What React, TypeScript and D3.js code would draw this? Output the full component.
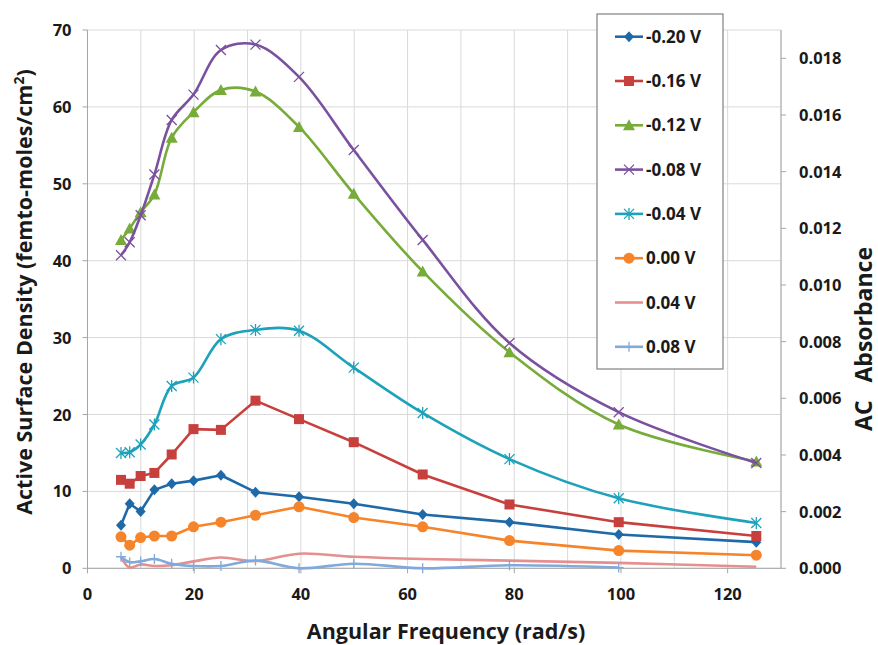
import React from "react";
import * as d3 from "d3";

// ---- data ----
const freq = [6.28, 7.91, 9.96, 12.54, 15.78, 19.87, 25.01, 31.49, 39.65, 49.91, 62.83, 79.1, 99.58, 125.37];
const vM020 = [5.6, 8.4, 7.4, 10.2, 11.0, 11.4, 12.1, 9.9, 9.3, 8.4, 7.0, 6.0, 4.4, 3.4];
const vM016 = [11.5, 11.0, 12.0, 12.4, 14.8, 18.1, 18.0, 21.8, 19.4, 16.4, 12.2, 8.3, 6.0, 4.2];
const vM012 = [42.7, 44.2, 46.3, 48.6, 56.0, 59.3, 62.2, 62.0, 57.4, 48.7, 38.6, 28.1, 18.7, 13.9];
const vM008 = [40.7, 42.4, 45.9, 51.2, 58.3, 61.6, 67.4, 68.1, 63.9, 54.4, 42.7, 29.3, 20.3, 13.7];
const vM004 = [15.0, 15.1, 16.1, 18.7, 23.7, 24.8, 29.8, 31.0, 30.9, 26.1, 20.2, 14.2, 9.1, 5.9];
const vP000 = [4.1, 3.0, 4.0, 4.2, 4.2, 5.4, 6.0, 6.9, 8.0, 6.6, 5.4, 3.6, 2.3, 1.7];
const vP004 = [1.4, 0.1, 0.5, 0.3, 0.4, 0.9, 1.4, 0.95, 1.9, 1.5, 1.2, 1.0, 0.7, 0.2];
const vP008 = [1.5, 0.8, 0.9, 1.2, 0.6, 0.3, 0.3, 1.0, 0.0, 0.6, 0.0, 0.4, 0.1];

const seriesNames = ["-0.20 V", "-0.16 V", "-0.12 V", "-0.08 V", "-0.04 V", "0.00 V", "0.04 V", "0.08 V"];
const seriesValues = [vM020, vM016, vM012, vM008, vM004, vP000, vP004, vP008];
const seriesColors = ["#1f69a8", "#c8403e", "#77ab3a", "#7a519f", "#1ea2bb", "#f5842a", "#e58f8e", "#82a9db"];
const seriesMarkers = ["diamond", "square", "triangle", "x", "asterisk", "circle", "none", "plus"];
const seriesSmooth = [false, false, true, true, true, false, true, true];

const xTicks = [0, 20, 40, 60, 80, 100, 120];
const xGrid = [10, 20, 30, 40, 50, 60, 70, 80, 90, 100, 110, 120, 130];
const yTicks = [0, 10, 20, 30, 40, 50, 60, 70];
const y2Ticks = [0, 0.002, 0.004, 0.006, 0.008, 0.01, 0.012, 0.014, 0.016, 0.018];

const FONT = "'Open Sans', sans-serif";

function Marker({ type, x, y, color }: { type: string; x: number; y: number; color: string }) {
  const s = 5;
  switch (type) {
    case "diamond":
      return <path d={`M${x},${y - s - 0.5}L${x + s},${y}L${x},${y + s + 0.5}L${x - s},${y}Z`} fill={color} />;
    case "square":
      return <rect x={x - 5} y={y - 5} width={10} height={10} fill={color} />;
    case "triangle":
      return <path d={`M${x},${y - 6}L${x + 6},${y + 5}L${x - 6},${y + 5}Z`} fill={color} />;
    case "circle":
      return <circle cx={x} cy={y} r={5.5} fill={color} />;
    case "x":
      return (
        <path d={`M${x - 5},${y - 5}L${x + 5},${y + 5}M${x - 5},${y + 5}L${x + 5},${y - 5}`} stroke={color} strokeWidth={1.3} fill="none" />
      );
    case "asterisk":
      return (
        <path
          d={`M${x - 5},${y - 5}L${x + 5},${y + 5}M${x - 5},${y + 5}L${x + 5},${y - 5}M${x},${y - 6}L${x},${y + 6}`}
          stroke={color}
          strokeWidth={1.3}
          fill="none"
        />
      );
    case "plus":
      return <path d={`M${x - 5},${y}L${x + 5},${y}M${x},${y - 5}L${x},${y + 5}`} stroke={color} strokeWidth={1.3} fill="none" />;
    default:
      return null;
  }
}

export default function App() {
  const W = 878;
  const H = 645;
  const L = 87.5, R = 781, T = 30, B = 568.3;

  const x = d3.scaleLinear().domain([0, 130]).range([L, R]);
  const y = d3.scaleLinear().domain([0, 70]).range([B, T]);
  const y2 = d3.scaleLinear().domain([0, 0.019]).range([B, T]);

  const lineSmooth = d3
    .line<[number, number]>()
    .x((d) => x(d[0]))
    .y((d) => y(d[1]))
    .curve(d3.curveCatmullRom.alpha(0.5));
  const lineStraight = d3
    .line<[number, number]>()
    .x((d) => x(d[0]))
    .y((d) => y(d[1]));

  const axisColor = "#a6a6a6";
  const gridColor = "#d9d9d9";

  const legX = 597, legY = 14, legW = 126, legH = 355;
  const legRow0 = 36.7, legStep = 44.3;

  return (
    <div style={{ position: "fixed", left: 0, top: 0, width: W, height: H, overflow: "hidden" }}>
      <svg width={W} height={H} style={{ display: "block", background: "#fff" }}>
        {/* grid */}
        {yTicks.map((t) => (
          <line key={"gy" + t} x1={L} x2={R} y1={y(t)} y2={y(t)} stroke={gridColor} strokeWidth={1} />
        ))}
        {xGrid.map((t) => (
          <line key={"gx" + t} x1={x(t)} x2={x(t)} y1={T} y2={B} stroke={gridColor} strokeWidth={1} />
        ))}
        {/* axes */}
        <line x1={L} x2={L} y1={T} y2={B} stroke={axisColor} />
        <line x1={L} x2={R} y1={B} y2={B} stroke={axisColor} />
        <line x1={R} x2={R} y1={T} y2={B} stroke={axisColor} />
        {yTicks.map((t) => (
          <g key={"yt" + t}>
            <line x1={L - 5} x2={L} y1={y(t)} y2={y(t)} stroke={axisColor} />
            <text x={L - 16} y={y(t) + 6} textAnchor="end" fontFamily={FONT} fontWeight={700} fontSize={16.5} fill="#1a1a1a">
              {t}
            </text>
          </g>
        ))}
        {xTicks.map((t) => (
          <g key={"xt" + t}>
            <line x1={x(t)} x2={x(t)} y1={B} y2={B + 5} stroke={axisColor} />
            <text x={x(t)} y={600} textAnchor="middle" fontFamily={FONT} fontWeight={700} fontSize={16.5} fill="#1a1a1a">
              {t}
            </text>
          </g>
        ))}
        {y2Ticks.map((t) => (
          <g key={"y2t" + t}>
            <line x1={R} x2={R + 5} y1={y2(t)} y2={y2(t)} stroke={axisColor} />
            <text x={799} y={y2(t) + 6} textAnchor="start" fontFamily={FONT} fontWeight={700} fontSize={16.5} fill="#1a1a1a">
              {t.toFixed(3)}
            </text>
          </g>
        ))}
        {/* series */}
        {seriesValues.map((vals, i) => {
          const pts: [number, number][] = vals.map((v, j) => [freq[j], v]);
          const gen = seriesSmooth[i] ? lineSmooth : lineStraight;
          return (
            <g key={"s" + i}>
              <path d={gen(pts) || ""} fill="none" stroke={seriesColors[i]} strokeWidth={2.6} strokeLinejoin="round" />
              {pts.map((p, j) => (
                <Marker key={j} type={seriesMarkers[i]} x={x(p[0])} y={y(p[1])} color={seriesColors[i]} />
              ))}
            </g>
          );
        })}
        {/* legend */}
        <rect x={legX} y={legY} width={legW} height={legH} fill="#fff" stroke="#808080" strokeWidth={1.2} />
        {seriesNames.map((n, i) => {
          const cy = legRow0 + i * legStep;
          return (
            <g key={"lg" + i}>
              <line x1={615} x2={643} y1={cy} y2={cy} stroke={seriesColors[i]} strokeWidth={2.6} />
              <Marker type={seriesMarkers[i]} x={629} y={cy} color={seriesColors[i]} />
              <text x={646} y={cy + 6} fontFamily={FONT} fontWeight={700} fontSize={17} fill="#1a1a1a">
                {n}
              </text>
            </g>
          );
        })}
        {/* axis titles */}
        <text x={446} y={639} textAnchor="middle" fontFamily={FONT} fontWeight={700} fontSize={21.5} fill="#1a1a1a">
          Angular Frequency (rad/s)
        </text>
        <text
          transform={`translate(32,292) rotate(-90)`}
          textAnchor="middle"
          fontFamily={FONT}
          fontWeight={700}
          fontSize={21.5}
          fill="#1a1a1a"
        >
          Active Surface Density (femto-moles/cm
          <tspan dy={-8} fontSize={14}>2</tspan>
          <tspan dy={8}>)</tspan>
        </text>
        <text
          transform={`translate(872,339) rotate(-90)`}
          textAnchor="middle"
          fontFamily={FONT}
          fontWeight={700}
          fontSize={23}
          fill="#1a1a1a"
          style={{ whiteSpace: "pre" }}
        >
          {"AC   Absorbance"}
        </text>
      </svg>
    </div>
  );
}
